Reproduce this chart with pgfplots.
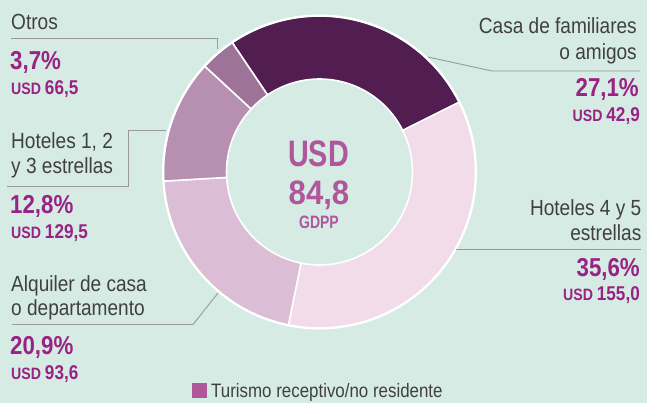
\documentclass[border=0pt]{standalone}
\usepackage{pgfplots}
\usepackage{pgfplotstable}
\pgfplotsset{compat=1.18}
\usepackage{fontspec}
\setmainfont{Liberation Sans}[FakeStretch=0.87]
\newfontfamily\boldc{Liberation Sans}[FakeStretch=0.86]
\newfontfamily\ctrl{Liberation Sans}[FakeStretch=0.78]
\newfontfamily\ctrd{Liberation Sans}[FakeStretch=0.92]
\definecolor{bg}{HTML}{D6EBE3}
\definecolor{seg0}{HTML}{521E52}
\definecolor{seg1}{HTML}{F2DCEA}
\definecolor{seg2}{HTML}{DBBDD6}
\definecolor{seg3}{HTML}{B78FB1}
\definecolor{seg4}{HTML}{9E7398}
\definecolor{lbl}{HTML}{404040}
\definecolor{pct}{HTML}{992285}
\definecolor{ctr}{HTML}{B0579C}
\definecolor{lead}{HTML}{9A9A9A}
\pgfplotstableread{
label pct usd
Casa 27.1 42.9
H45 35.6 155.0
Alq 20.9 93.6
H123 12.8 129.5
Otros 3.7 66.5
}\datatable
\newcommand\lab[1]{{\fontsize{22}{22}\selectfont\color{lbl}#1}}
\newcommand\pc[1]{{\boldc\bfseries\fontsize{26}{26}\selectfont\color{pct}#1}}
\newcommand\usd[1]{{\boldc\bfseries\color{pct}\fontsize{16.5}{16.5}\selectfont USD\ \fontsize{20}{20}\selectfont #1}}
\def\cx{319.5}\def\cy{172}\def\R{156}\def\r{93}
\begin{document}
\begin{tikzpicture}
\begin{axis}[x=1bp,y=1bp,y dir=reverse,xmin=0,xmax=647,ymin=0,ymax=403,
  hide axis,clip=false,axis line style={draw=none}]
\fill[bg] (axis cs:0,0) rectangle (axis cs:647,403);
\def\startang{124}
\pgfplotsforeachungrouped \i in {0,...,4}{%
  \pgfplotstablegetelem{\i}{pct}\of\datatable
  \pgfmathsetmacro\angA{\startang}%
  \pgfmathsetmacro\angB{\startang-\pgfplotsretval*3.6/1.001}%
  \edef\doit{\noexpand\fill[seg\i,draw=white,line width=1.6pt,line join=round]
    ([shift={(\angA:\R bp)}]axis cs:\cx,\cy) arc[start angle=\angA,end angle=\angB,radius=\R bp]
    -- ([shift={(\angB:\r bp)}]axis cs:\cx,\cy) arc[start angle=\angB,end angle=\angA,radius=\r bp] -- cycle;}%
  \doit
  \xdef\startang{\angB}%
}
\draw[white,line width=2pt] (axis cs:\cx,\cy) circle[radius=\R bp+0.5bp];
% leader lines
\draw[lead,line width=0.9pt] (axis cs:11,38.5) -- (axis cs:217,38.5) -- (axis cs:217,49);
\draw[lead,line width=0.9pt] (axis cs:7,186) -- (axis cs:128,186) -- (axis cs:128,130) -- (axis cs:166,130);
\draw[lead,line width=0.9pt] (axis cs:12,324.5) -- (axis cs:193,324.5) -- (axis cs:218,293);
\draw[lead,line width=0.9pt] (axis cs:428,57) -- (axis cs:492,71) -- (axis cs:640,71);
\draw[lead,line width=0.9pt] (axis cs:456,249) -- (axis cs:641,249);
% left labels
\node[anchor=base west,inner sep=0pt] at (axis cs:11,29.5) {\lab{Otros}};
\node[anchor=base west,inner sep=0pt] at (axis cs:10,69) {\pc{3,7\%}};
\node[anchor=base west,inner sep=0pt] at (axis cs:11,94) {\usd{66,5}};
\node[anchor=base west,inner sep=0pt] at (axis cs:11,148) {\lab{Hoteles 1, 2}};
\node[anchor=base west,inner sep=0pt] at (axis cs:11,173.5) {\lab{y 3 estrellas}};
\node[anchor=base west,inner sep=0pt] at (axis cs:10,213) {\pc{12,8\%}};
\node[anchor=base west,inner sep=0pt] at (axis cs:11,238) {\usd{129,5}};
\node[anchor=base west,inner sep=0pt] at (axis cs:11,291.5) {\lab{Alquiler de casa}};
\node[anchor=base west,inner sep=0pt] at (axis cs:11,315) {\lab{o departamento}};
\node[anchor=base west,inner sep=0pt] at (axis cs:10,354) {\pc{20,9\%}};
\node[anchor=base west,inner sep=0pt] at (axis cs:11,379) {\usd{93,6}};
% right labels
\node[anchor=base east,inner sep=0pt] at (axis cs:637,33.5) {\lab{Casa de familiares}};
\node[anchor=base east,inner sep=0pt] at (axis cs:637,59.5) {\lab{o amigos}};
\node[anchor=base east,inner sep=0pt] at (axis cs:639,96.7) {\pc{27,1\%}};
\node[anchor=base east,inner sep=0pt] at (axis cs:640,121.7) {\usd{42,9}};
\node[anchor=base east,inner sep=0pt] at (axis cs:641.5,215) {\lab{Hoteles 4 y 5}};
\node[anchor=base east,inner sep=0pt] at (axis cs:641.5,240) {\lab{estrellas}};
\node[anchor=base east,inner sep=0pt] at (axis cs:640,276.7) {\pc{35,6\%}};
\node[anchor=base east,inner sep=0pt] at (axis cs:640,300.7) {\usd{155,0}};
% center
\node[anchor=base,inner sep=0pt] at (axis cs:318.5,166.7) {\ctrl\bfseries\fontsize{37}{37}\selectfont\color{ctr}USD};
\node[anchor=base,inner sep=0pt] at (axis cs:319,204) {\ctrd\bfseries\fontsize{34}{34}\selectfont\color{ctr}84,8};
\node[anchor=base,inner sep=0pt] at (axis cs:319,228.3) {\ctrl\bfseries\fontsize{18}{18}\selectfont\color{ctr}GDPP};
% legend
\fill[ctr] (axis cs:192,383) rectangle (axis cs:207,398);
\node[anchor=base west,inner sep=0pt] at (axis cs:211,397) {{\fontsize{19.5}{19.5}\selectfont\color{lbl}Turismo receptivo/no residente}};
\end{axis}
\end{tikzpicture}
\end{document}
